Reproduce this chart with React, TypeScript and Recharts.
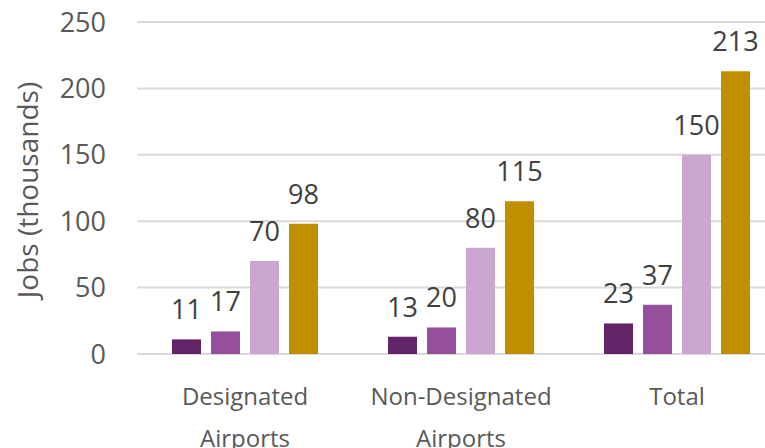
import React from 'react';
import { BarChart, Bar, XAxis, YAxis, CartesianGrid, LabelList } from 'recharts';

const categories = ['Designated Airports', 'Non-Designated Airports', 'Total'];
const seriesA = [11, 13, 23];
const seriesB = [17, 20, 37];
const seriesC = [70, 80, 150];
const seriesD = [98, 115, 213];
const yTicks = [0, 50, 100, 150, 200, 250];

const colors = ['#622466', '#954F9C', '#CBA6D0', '#BF8F00'];
const FONT = '"Open Sans", sans-serif';

const data = categories.map((name, i) => ({
  name,
  a: seriesA[i],
  b: seriesB[i],
  c: seriesC[i],
  d: seriesD[i],
}));

const CategoryTick = (props: any) => {
  const { x, y, payload } = props;
  const label: string = payload.value;
  const idx = label.lastIndexOf(' ');
  const lines = idx > 0 ? [label.slice(0, idx), label.slice(idx + 1)] : [label];
  return (
    <text x={x} y={y} textAnchor="middle" fill="#595959" fontSize={24} fontFamily={FONT}>
      {lines.map((l, i) => (
        <tspan key={i} x={x} y={354 + 51 + i * 42}>
          {l}
        </tspan>
      ))}
    </text>
  );
};

const AxisTitle = () => (
  <text
    transform="translate(38,190) rotate(-90)"
    textAnchor="middle"
    fill="#595959"
    fontSize={28}
    fontFamily={FONT}
  >
    Jobs (thousands)
  </text>
);

const keys = ['a', 'b', 'c', 'd'];

export default function App() {
  return (
    <div style={{ position: 'absolute', left: 0, top: 0, width: 765, height: 448, overflow: 'hidden', background: '#fff' }}>
      <BarChart
        width={800}
        height={448}
        data={data}
        margin={{ top: 22, right: 15, bottom: 0, left: 0 }}
        barSize={29}
        barGap={10}
      >
        <CartesianGrid vertical={false} stroke="#D9D9D9" strokeWidth={2} />
        <XAxis
          dataKey="name"
          height={94}
          axisLine={false}
          tickLine={false}
          tickSize={0}
          tickMargin={0}
          interval={0}
          tick={<CategoryTick />}
        />
        <YAxis
          width={137}
          domain={[0, 250]}
          ticks={yTicks}
          axisLine={false}
          tickLine={false}
          tickSize={0}
          tickMargin={31}
          tick={{ fill: '#595959', fontSize: 27, fontFamily: FONT }}
          label={{ content: () => <AxisTitle /> }}
        />
        {keys.map((k, i) => (
          <Bar key={k} dataKey={k} fill={colors[i]} isAnimationActive={false}>
            <LabelList
              dataKey={k}
              position="top"
              offset={20}
              fill="#404040"
              fontSize={27}
              fontFamily={FONT}
            />
          </Bar>
        ))}
      </BarChart>
    </div>
  );
}
